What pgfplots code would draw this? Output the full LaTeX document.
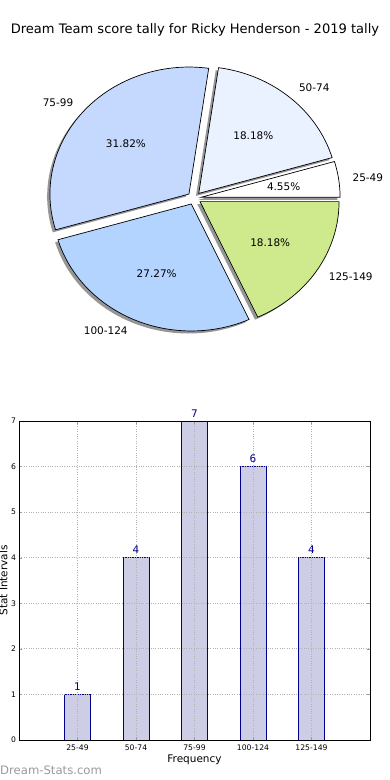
\documentclass[border=0pt]{standalone}
\usepackage{fontspec}
\setmainfont{DejaVu Sans}
\usepackage{pgfplots}
\pgfplotsset{compat=1.18}
\definecolor{cA}{RGB}{255,255,255}
\definecolor{cB}{RGB}{235,242,255}
\definecolor{cC}{RGB}{197,217,255}
\definecolor{cD}{RGB}{179,212,255}
\definecolor{cE}{RGB}{207,234,140}
\definecolor{barfill}{RGB}{205,205,230}
\definecolor{baredge}{RGB}{0,0,139}
\definecolor{shadowgray}{RGB}{150,150,150}
\definecolor{wm}{RGB}{153,153,153}
\newcommand\labelfont{\fontsize{10.5}{12}\selectfont}
\newcommand\total{22}
% #1 cumulative count before, #2 cumulative count after
\newcommand\pieangles[2]{%
  \pgfmathsetmacro\aS{#1*360/\total}%
  \pgfmathsetmacro\aE{#2*360/\total}%
  \pgfmathsetmacro\aM{(\aS+\aE)/2}}
\newcommand\pieshadow[2]{%
  \pieangles{#1}{#2}%
  \pgfmathsetmacro\ox{0.05*cos(\aM)-0.02}%
  \pgfmathsetmacro\oy{0.05*sin(\aM)-0.02}%
  \edef\tmp{\noexpand\addplot[fill=shadowgray, draw=none, domain=\aS:\aE, samples=72] ({\ox+cos(x)},{\oy+sin(x)}) -- (axis cs:\ox,\oy) -- cycle;}\tmp}
\newcommand\piewedge[3]{%
  \pieangles{#1}{#2}%
  \pgfmathsetmacro\ox{0.05*cos(\aM)}%
  \pgfmathsetmacro\oy{0.05*sin(\aM)}%
  \edef\tmp{\noexpand\addplot[fill=#3, draw=black, line width=0.7bp, line join=miter, domain=\aS:\aE, samples=72] ({\ox+cos(x)},{\oy+sin(x)}) -- (axis cs:\ox,\oy) -- cycle;}\tmp}
\newcommand\pielabel[4]{%
  \pieangles{#1}{#2}%
  \pgfmathsetmacro\lx{1.15*cos(\aM)}%
  \pgfmathsetmacro\ly{1.15*sin(\aM)}%
  \pgfmathsetmacro\px{0.65*cos(\aM)}%
  \pgfmathsetmacro\py{0.65*sin(\aM)}%
  \ifdim\lx pt>0pt \def\anch{west}\else\def\anch{east}\fi
  \edef\tmp{\noexpand\node[anchor=\anch, inner sep=0pt, font=\noexpand\labelfont] at (axis cs:\lx,\ly) {\unexpanded{#3}};
    \noexpand\node[anchor=center, inner sep=0pt, font=\noexpand\labelfont] at (axis cs:\px,\py) {\unexpanded{#4}};}\tmp}
\begin{document}
\begin{tikzpicture}
% Pie chart
\begin{axis}[at={(194.2bp,581.8bp)}, anchor=center, scale only axis,
  width=389.2bp, height=355.6bp,
  xmin=-1.4, xmax=1.4, ymin=-1.4, ymax=1.4,
  hide axis, clip=false]
\pieshadow{0}{1}
\pieshadow{1}{5}
\pieshadow{5}{12}
\pieshadow{12}{18}
\pieshadow{18}{22}
\piewedge{0}{1}{cA}
\piewedge{1}{5}{cB}
\piewedge{5}{12}{cC}
\piewedge{12}{18}{cD}
\piewedge{18}{22}{cE}
\pielabel{0}{1}{25-49}{4.55\%}
\pielabel{1}{5}{50-74}{18.18\%}
\pielabel{5}{12}{75-99}{31.82\%}
\pielabel{12}{18}{100-124}{27.27\%}
\pielabel{18}{22}{125-149}{18.18\%}
\end{axis}
% Bar chart
\begin{axis}[at={(19bp,40bp)}, anchor=south west, scale only axis,
  width=351bp, height=319bp,
  xmin=-1, xmax=5, ymin=0, ymax=7,
  xtick={0,1,2,3,4}, xticklabels={25-49,50-74,75-99,100-124,125-149},
  ytick={0,1,2,3,4,5,6,7},
  tick label style={font=\fontsize{7.7}{9}\selectfont},
  /pgf/number format/assume math mode=true,
  grid=major, grid style={dotted, black!30, line width=0.9bp},
  axis on top, clip=false,
  tick align=inside, major tick length=3bp,
  tick style={black!40},
  xticklabel style={yshift=-1bp},
  yticklabel style={xshift=0.5bp},
  xlabel={Frequency}, ylabel={Stat Intervals},
  label style={font=\labelfont},
  xlabel style={at={(axis description cs:0.5,0)}, anchor=center, yshift=-20bp},
  ylabel style={at={([xshift=-15.5bp]axis description cs:0,0.5)}, anchor=center},
  axis line style={black, line width=0.8bp}]
\addplot[ybar, bar width=0.444, fill=barfill, draw=baredge, line width=0.8bp,
  nodes near coords,
  nodes near coords style={text=baredge, font=\fontsize{10.5}{12}\selectfont, inner sep=0pt, anchor=south, yshift=3.5bp}]
  coordinates {(0,1) (1,4) (2,7) (3,6) (4,4)};
\end{axis}
\node[font=\fontsize{13.1}{15}\selectfont] at (195bp,750bp) {Dream Team score tally for Ricky Henderson - 2019 tally};
\node[font=\fontsize{11.7}{14}\selectfont, text=wm, anchor=west, inner sep=0pt] at (0bp,10bp) {Dream-Stats.com};
\pgfresetboundingbox
\path (0,0) rectangle (390bp,780bp);
\end{tikzpicture}
\end{document}
